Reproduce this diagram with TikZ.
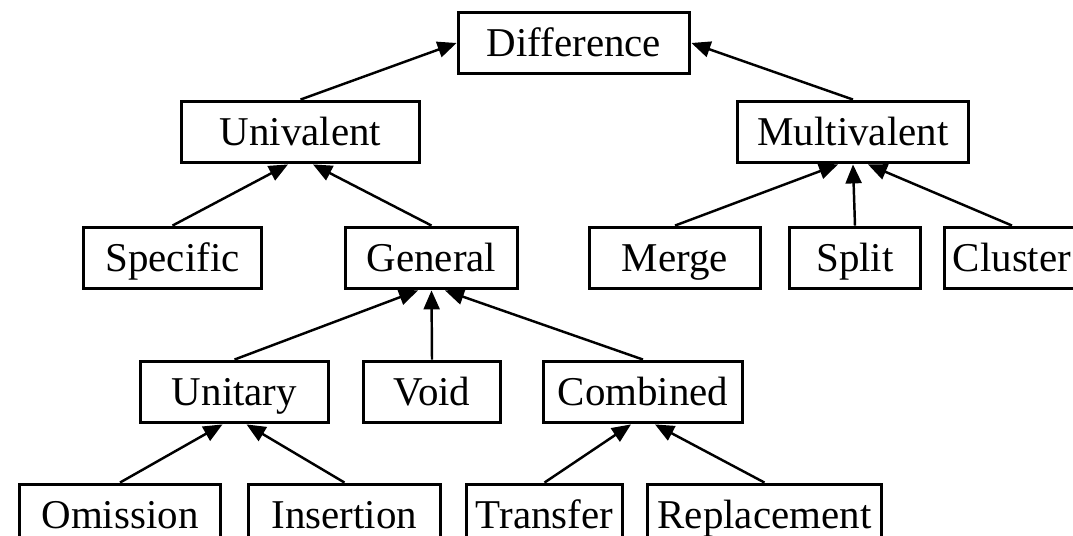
\documentclass[tikz,border=0pt]{standalone}
\usepackage{fontspec}
\setmainfont{Liberation Serif}
\usetikzlibrary{arrows.meta}

\begin{document}
\begin{tikzpicture}[x=0.02cm, y=-0.02cm, every node/.style={rectangle, draw, line width=2.2pt, inner sep=0pt, minimum height=1.22cm, text height=15.4pt, text depth=0pt, font=\fontsize{23.3}{28}\selectfont}, link/.style={line width=1.4pt, -{Triangle[length=0.38cm, width=0.32cm]}}]
  \useasboundingbox (0,0) rectangle (1073,536);
  \node[minimum width=4.62cm] (diff) at (574, 43) {Difference};
  \node[minimum width=4.76cm] (univ) at (300.5, 132) {Univalent};
  \node[minimum width=4.62cm] (multi) at (853, 132) {Multivalent};
  \node[minimum width=3.56cm] (spec) at (172.5, 258) {Specific};
  \node[minimum width=3.44cm] (gen) at (431.5, 258) {General};
  \node[minimum width=3.42cm] (merge) at (675, 258) {Merge};
  \node[minimum width=2.62cm] (split) at (855, 258) {Split};
  \node[minimum width=2.70cm] (clust) at (1012, 258) {Cluster};
  \node[minimum width=3.76cm] (unit) at (234.5, 392) {Unitary};
  \node[minimum width=2.74cm] (void) at (432, 392) {Void};
  \node[minimum width=3.98cm] (comb) at (643, 392) {Combined};
  \node[minimum width=4.02cm] (omis) at (120, 515) {Omission};
  \node[minimum width=3.84cm] (ins) at (344.5, 515) {Insertion};
  \node[minimum width=3.12cm] (trans) at (544.5, 515) {Transfer};
  \node[minimum width=4.68cm] (repl) at (764.5, 515) {Replacement};
  \draw[link] (univ.north) -- (diff.west);
  \draw[link] (multi.north) -- (diff.east);
  \draw[link] (spec.north) -- ([xshift=-0.25cm]univ.south);
  \draw[link] (gen.north) -- ([xshift=0.25cm]univ.south);
  \draw[link] (merge.north) -- ([xshift=-0.3cm]multi.south);
  \draw[link] (split.north) -- (multi.south);
  \draw[link] (clust.north) -- ([xshift=0.3cm]multi.south);
  \draw[link] (unit.north) -- ([xshift=-0.27cm]gen.south);
  \draw[link] (void.north) -- (gen.south);
  \draw[link] (comb.north) -- ([xshift=0.27cm]gen.south);
  \draw[link] (omis.north) -- ([xshift=-0.24cm]unit.south);
  \draw[link] (ins.north) -- ([xshift=0.24cm]unit.south);
  \draw[link] (trans.north) -- ([xshift=-0.24cm]comb.south);
  \draw[link] (repl.north) -- ([xshift=0.24cm]comb.south);
\end{tikzpicture}
\end{document}
